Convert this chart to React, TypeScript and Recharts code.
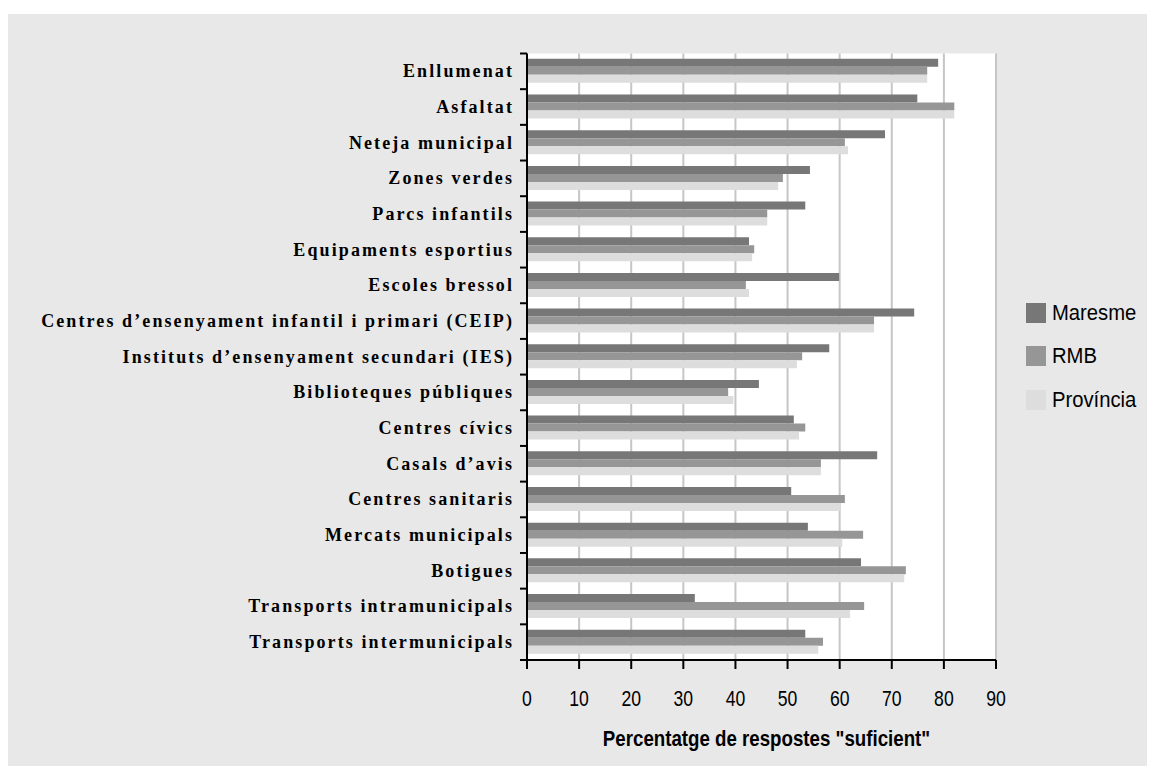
import React from "react";
import { BarChart, Bar, XAxis, YAxis, CartesianGrid, Legend, Label } from "recharts";

const categories = [
  "Enllumenat",
  "Asfaltat",
  "Neteja municipal",
  "Zones verdes",
  "Parcs infantils",
  "Equipaments esportius",
  "Escoles bressol",
  "Centres d’ensenyament infantil i primari (CEIP)",
  "Instituts d’ensenyament secundari (IES)",
  "Biblioteques públiques",
  "Centres cívics",
  "Casals d’avis",
  "Centres sanitaris",
  "Mercats municipals",
  "Botigues",
  "Transports intramunicipals",
  "Transports intermunicipals",
];

const maresme = [78.9, 74.9, 68.7, 54.3, 53.4, 42.6, 59.9, 74.3, 58.0, 44.5, 51.2, 67.2, 50.7, 53.9, 64.1, 32.2, 53.4];
const rmb = [76.8, 82.0, 61.0, 49.1, 46.1, 43.6, 42.0, 66.6, 52.8, 38.6, 53.4, 56.4, 61.0, 64.5, 72.7, 64.7, 56.8];
const provincia = [76.8, 82.0, 61.6, 48.2, 46.1, 43.2, 42.6, 66.6, 51.8, 39.6, 52.2, 56.4, 60.1, 60.5, 72.4, 62.0, 55.9];

const xTicks = [0, 10, 20, 30, 40, 50, 60, 70, 80, 90];

const series = [
  { key: "maresme", name: "Maresme", color: "#777777" },
  { key: "rmb", name: "RMB", color: "#969696" },
  { key: "provincia", name: "Província", color: "#dddddd" },
];

const data = categories.map((name, i) => ({
  name,
  maresme: maresme[i],
  rmb: rmb[i],
  provincia: provincia[i],
}));

const W = 1147;
const H = 752;
const margin = { top: 39.5, right: 159, bottom: 6, left: 0 };
const BAND = (H - margin.top - margin.bottom - 100) / categories.length;

const sans = "'Liberation Sans', Arial, sans-serif";

// texts in the original are condensed Arial, so squeeze horizontally
const ValueTick = (props: any) => {
  const { x, y, payload } = props;
  return (
    <text
      transform={`translate(${x},${y}) scale(0.8,1)`}
      dy="0.71em"
      textAnchor="middle"
      fill="#000"
      style={{ fontFamily: sans, fontSize: 22 }}
    >
      {payload.value}
    </text>
  );
};

const AxisTitle = (props: any) => {
  const { viewBox } = props;
  const cx = viewBox.x + viewBox.width / 2 + 5;
  const cy = viewBox.y + viewBox.height - 14;
  return (
    <text
      transform={`translate(${cx},${cy}) scale(0.85,1)`}
      textAnchor="middle"
      fill="#000"
      style={{ fontFamily: sans, fontWeight: 700, fontSize: 22 }}
    >
      Percentatge de respostes "suficient"
    </text>
  );
};

const CategoryTick = (props: any) => {
  const { x, y, payload } = props;
  const last = payload.value === categories[categories.length - 1];
  return (
    <g>
      <line x1={x + 8} x2={x + 15} y1={y - BAND / 2} y2={y - BAND / 2} stroke="#000" strokeWidth={2} />
      {last && <line x1={x + 8} x2={x + 15} y1={y + BAND / 2} y2={y + BAND / 2} stroke="#000" strokeWidth={2} />}
      <text
        x={x + 2}
        y={y}
        dy={6}
        textAnchor="end"
        fill="#000"
        style={{ fontFamily: "'Liberation Serif', 'Times New Roman', serif", fontWeight: 700, fontSize: 18, letterSpacing: 2.1 }}
      >
        {payload.value}
      </text>
    </g>
  );
};

const LegendBox = () => (
  <div style={{ fontFamily: sans, fontSize: 22, color: "#000" }}>
    {series.map((s) => (
      <div key={s.key} style={{ display: "flex", alignItems: "center", height: 43.5 }}>
        <span style={{ display: "inline-block", width: 20, height: 20, background: s.color, marginRight: 6 }} />
        <span style={{ display: "inline-block", transform: "scaleX(0.92)", transformOrigin: "left center" }}>{s.name}</span>
      </div>
    ))}
  </div>
);

export default function App() {
  return (
    <div style={{ background: "#e8e8e8", width: W, height: H, marginTop: 6 }}>
      <BarChart
        width={W}
        height={H}
        data={data}
        layout="vertical"
        margin={margin}
        barCategoryGap="15%"
        barGap={0}
      >
        <CartesianGrid horizontal={false} stroke="#c6c6c6" strokeWidth={2} fill="#ffffff" />
        <XAxis
          type="number"
          domain={[0, 90]}
          ticks={xTicks}
          interval={0}
          height={100}
          tickSize={9}
          tickMargin={21}
          axisLine={{ stroke: "#000", strokeWidth: 2 }}
          tickLine={{ stroke: "#000", strokeWidth: 2 }}
          tick={<ValueTick />}
        >
          <Label content={<AxisTitle />} position="insideBottom" />
        </XAxis>
        <YAxis
          type="category"
          dataKey="name"
          width={519}
          interval={0}
          tickSize={7}
          tickMargin={8}
          tickLine={false}
          axisLine={{ stroke: "#000", strokeWidth: 2 }}
          tick={<CategoryTick />}
        />
        <Legend
          layout="vertical"
          align="center"
          verticalAlign="middle"
          content={<LegendBox />}
          wrapperStyle={{ left: 1018, top: 277 }}
        />
        {series.map((s) => (
          <Bar key={s.key} dataKey={s.key} name={s.name} fill={s.color} isAnimationActive={false} />
        ))}
      </BarChart>
    </div>
  );
}
